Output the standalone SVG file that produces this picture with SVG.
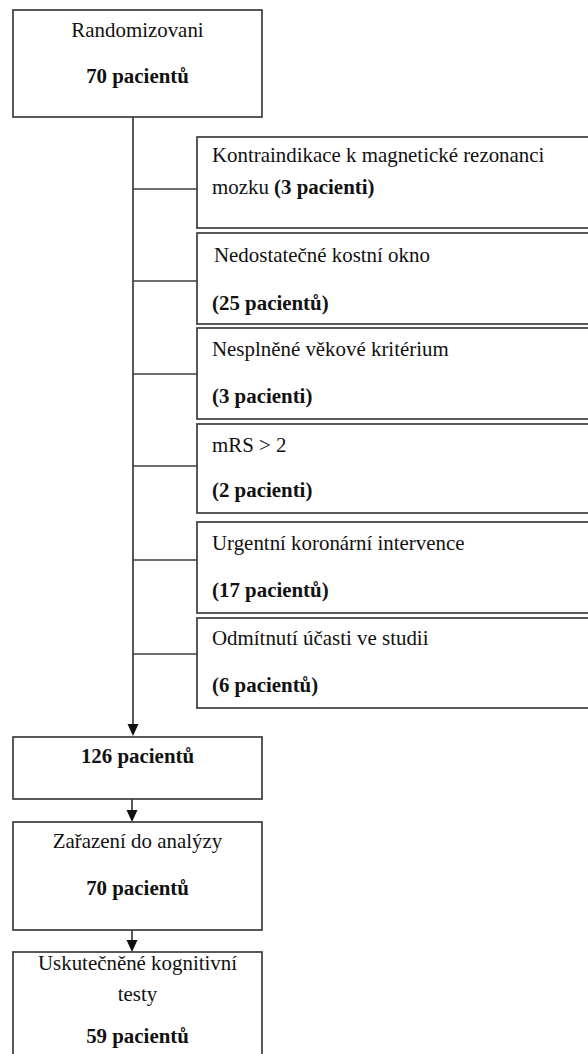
<svg xmlns="http://www.w3.org/2000/svg" width="588" height="1054" viewBox="0 0 588 1054">
<style>
.box{fill:#fff;stroke:#3c3c3c;stroke-width:1.7}
.ln{fill:none;stroke:#3c3c3c;stroke-width:1.7}
.ah{fill:#111}
text{font-family:"Liberation Serif","Times New Roman",serif;font-size:20.9px;fill:#111}
.c{text-anchor:middle}
.b{font-weight:bold}
</style>
<rect width="588" height="1054" fill="#fff"/>
<g id="connectors">
<line class="ln" x1="133" y1="117" x2="133" y2="726"/>
<path class="ah" d="M127.5,724 L138.5,724 L133,736 Z"/>
<line class="ln" x1="133" y1="189" x2="197" y2="189"/>
<line class="ln" x1="133" y1="281" x2="197" y2="281"/>
<line class="ln" x1="133" y1="374" x2="197" y2="374"/>
<line class="ln" x1="133" y1="466" x2="197" y2="466"/>
<line class="ln" x1="133" y1="560" x2="197" y2="560"/>
<line class="ln" x1="133" y1="654" x2="197" y2="654"/>
<line class="ln" x1="132" y1="799" x2="132" y2="812"/>
<path class="ah" d="M126.5,810 L137.5,810 L132,822 Z"/>
<line class="ln" x1="132" y1="930" x2="132" y2="942"/>
<path class="ah" d="M126.5,940 L137.5,940 L132,952 Z"/>
</g>
<g id="n-random">
<rect class="box" x="13" y="10" width="249" height="107"/>
<text class="c" x="137.5" y="37">Randomizovani</text>
<text class="c b" x="137.5" y="83">70 pacientů</text>
</g>
<g id="n-kontra">
<rect class="box" x="197" y="137" width="400" height="91"/>
<text x="212" y="162">Kontraindikace k magnetické rezonanci</text>
<text x="212" y="194">mozku <tspan class="b">(3 pacienti)</tspan></text>
</g>
<g id="n-okno">
<rect class="box" x="197" y="233" width="400" height="91"/>
<text x="214" y="262">Nedostatečné kostní okno</text>
<text class="b" x="212" y="310">(25 pacientů)</text>
</g>
<g id="n-vek">
<rect class="box" x="197" y="328" width="400" height="91"/>
<text x="212" y="356">Nesplněné věkové kritérium</text>
<text class="b" x="212" y="403">(3 pacienti)</text>
</g>
<g id="n-mrs">
<rect class="box" x="197" y="424" width="400" height="89"/>
<text x="212" y="452">mRS &gt; 2</text>
<text class="b" x="212" y="497">(2 pacienti)</text>
</g>
<g id="n-urg">
<rect class="box" x="197" y="522" width="400" height="91"/>
<text x="212" y="550">Urgentní koronární intervence</text>
<text class="b" x="212" y="597">(17 pacientů)</text>
</g>
<g id="n-odm">
<rect class="box" x="197" y="618" width="400" height="90"/>
<text x="212" y="645">Odmítnutí účasti ve studii</text>
<text class="b" x="212" y="692">(6 pacientů)</text>
</g>
<g id="n-126">
<rect class="box" x="13" y="737" width="249" height="62"/>
<text class="c b" x="137.5" y="763">126 pacientů</text>
</g>
<g id="n-zarazeni">
<rect class="box" x="13" y="822" width="249" height="108"/>
<text class="c" x="137.5" y="848">Zařazení do analýzy</text>
<text class="c b" x="137.5" y="895">70 pacientů</text>
</g>
<g id="n-testy">
<rect class="box" x="13" y="952" width="249" height="110"/>
<text class="c" x="137.5" y="970">Uskutečněné kognitivní</text>
<text class="c" x="137.5" y="1001">testy</text>
<text class="c b" x="137.5" y="1043">59 pacientů</text>
</g>
</svg>
